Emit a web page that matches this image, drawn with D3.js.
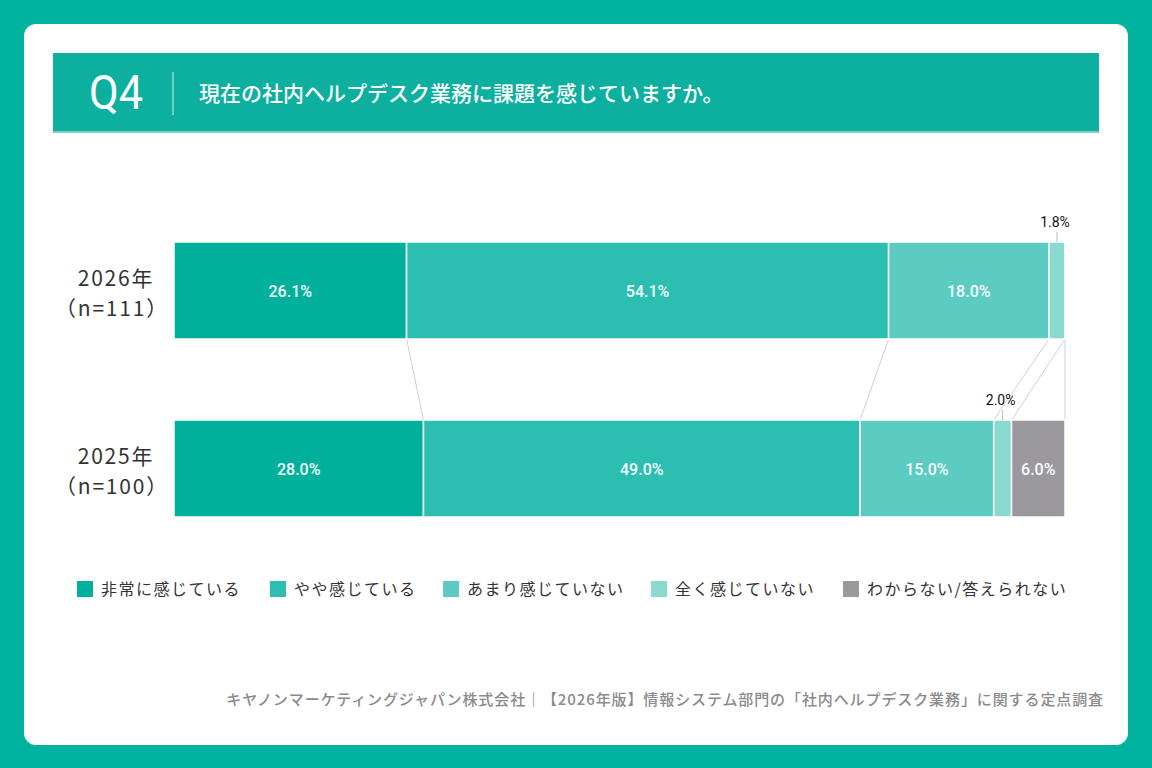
<!doctype html>
<html>
<head>
<meta charset="utf-8">
<style>
    html, body { margin: 0; padding: 0; background: #00B39E; }
    svg { display: block; }
    text { font-family: "Noto Sans CJK JP", "Noto Sans", sans-serif; }
    .segLabel { fill: #F4FFFD; font-size: 16px; font-weight: 500; text-anchor: middle; font-family: Roboto, "Noto Sans", sans-serif; }
    .outLabel { fill: #111; font-size: 14px; font-weight: 400; text-anchor: middle; font-family: Roboto, "Noto Sans", sans-serif; }
    .rowLabel { fill: #333; font-size: 21px; text-anchor: middle; letter-spacing: 1.8px; }
    .legend text { fill: #333; font-size: 16px; letter-spacing: 1.5px; }
</style>
<script src="https://d3js.org/d3.v7.min.js"></script>
</head>
<body>
<script>
    // data
    const categories = ['非常に感じている', 'やや感じている', 'あまり感じていない', '全く感じていない', 'わからない/答えられない']
    const colors = ['#00B09B', '#2CBFB1', '#5CCBC1', '#8AD9CF', '#9B999E']
    const years = ['2026年', '2025年']
    const sampleSizes = ['（n=111）', '（n=100）']
    const values2026 = [26.1, 54.1, 18.0, 1.8, 0]
    const values2025 = [28.0, 49.0, 15.0, 2.0, 6.0]
    const rows = [values2026, values2025]

    const W = 1152, H = 768
    const svg = d3.select('body').append('svg').attr('width', W).attr('height', H)

    // card + header
    svg.append('rect').attr('x', 0).attr('y', 0).attr('width', W).attr('height', H).attr('fill', '#00B39E')
    svg.append('rect').attr('x', 24).attr('y', 24).attr('width', 1104).attr('height', 721).attr('rx', 12).attr('fill', '#fff')

    svg.append('rect').attr('x', 53).attr('y', 55).attr('width', 1046).attr('height', 78).attr('fill', '#7FCDC3')
    svg.append('rect').attr('x', 53).attr('y', 53).attr('width', 1046).attr('height', 78).attr('fill', '#0DB09F')
    svg.append('text').attr('x', 116).attr('y', 109)
        .attr('text-anchor', 'middle')
        .style('font-family', 'Roboto, sans-serif')
        .style('font-size', '48px').style('fill', '#fff')
        .attr('transform', 'translate(116,0) scale(0.9,1) translate(-116,0)')
        .text('Q4')
    svg.append('line').attr('x1', 173).attr('x2', 173).attr('y1', 72).attr('y2', 115)
        .attr('stroke', '#fff').attr('stroke-opacity', 0.8).attr('stroke-width', 1)
    svg.append('text').attr('x', 199).attr('y', 101)
        .style('font-size', '21px').style('font-weight', 500).style('fill', '#fff')
        .text('現在の社内ヘルプデスク業務に課題を感じていますか。')

    // scales
    const x = d3.scaleLinear().domain([0, 100]).range([174, 1065])
    const y = d3.scaleBand().domain(years).range([242, 517]).paddingInner(81 / 178).paddingOuter(0)

    const stacked = rows.map(vals => {
        let acc = 0
        return vals.map((v, i) => {
            const s = {x0: acc, x1: acc + v, v: v, i: i}
            acc += v
            return s
        })
    })

    // connector lines between matching boundaries
    const conn = svg.append('g')
    for (let k = 1; k <= categories.length - 1; k++) {
        const a = stacked[0][k - 1].x1
        const b = stacked[1][k - 1].x1
        conn.append('line')
            .attr('x1', x(a)).attr('y1', y(years[0]) + y.bandwidth())
            .attr('x2', x(b)).attr('y2', y(years[1]))
            .attr('stroke', '#D3CBE0').attr('stroke-width', 1)
    }
    // right edge
    conn.append('line')
        .attr('x1', x(100)).attr('y1', y(years[0]) + y.bandwidth())
        .attr('x2', x(100)).attr('y2', y(years[1]))
        .attr('stroke', '#D3CBE0').attr('stroke-width', 1)

    stacked.forEach((segs, r) => {
        const g = svg.append('g')
        const y0 = y(years[r]), bh = y.bandwidth()
        g.selectAll('rect').data(segs.filter(d => d.v > 0)).enter()
            .append('rect')
            .attr('x', d => x(d.x0))
            .attr('y', y0)
            .attr('width', d => x(d.x1) - x(d.x0))
            .attr('height', bh)
            .attr('fill', d => colors[d.i])
            .attr('stroke', '#fff').attr('stroke-width', 1.5)

        segs.filter(d => d.v > 0).forEach(d => {
            const cx = (x(d.x0) + x(d.x1)) / 2
            if (d.v >= 5) {
                g.append('text').attr('class', 'segLabel')
                    .attr('x', cx).attr('y', y0 + bh / 2 + 6)
                    .text(d.v.toFixed(1) + '%')
            } else {
                g.append('text').attr('class', 'outLabel')
                    .attr('x', cx - 2).attr('y', y0 - 15)
                    .text(d.v.toFixed(1) + '%')
                g.append('line')
                    .attr('x1', cx).attr('x2', cx)
                    .attr('y1', y0 - 10).attr('y2', y0)
                    .attr('stroke', '#bbb').attr('stroke-width', 1)
            }
        })

        g.append('text').attr('class', 'rowLabel')
            .attr('x', 116).attr('y', y0 + bh / 2 - 5).text(years[r])
        g.append('text').attr('class', 'rowLabel')
            .attr('x', 112).attr('y', y0 + bh / 2 + 25).text(sampleSizes[r])
    })

    // legend
    const legendX = [77, 270, 443, 651, 843]
    const lg = svg.append('g').attr('class', 'legend')
    categories.forEach((c, i) => {
        lg.append('rect').attr('x', legendX[i]).attr('y', 581).attr('width', 16).attr('height', 16).attr('fill', colors[i])
        lg.append('text').attr('x', legendX[i] + 24).attr('y', 595).text(c)
    })

    // footer
    svg.append('text').attr('x', 1104).attr('y', 705)
        .attr('text-anchor', 'end')
        .style('font-size', '15px').style('fill', '#8A8A8A').style('font-weight', 500)
        .style('letter-spacing', '0.9px')
        .text('キヤノンマーケティングジャパン株式会社｜【2026年版】情報システム部門の「社内ヘルプデスク業務」に関する定点調査')
</script>
</body>
</html>
